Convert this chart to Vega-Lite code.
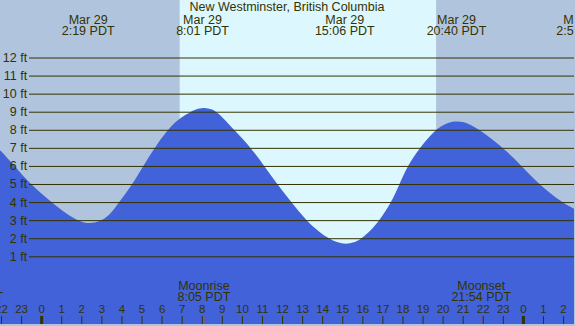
{
  "$schema": "https://vega.github.io/schema/vega-lite/v6.json",
  "width": 575,
  "height": 326,
  "padding": 0,
  "autosize": {"type": "fit", "contains": "padding"},
  "background": "#b0c4de",
  "config": {"view": {"stroke": null}, "font": "Liberation Sans"},
  "datasets": {
    "bands": [
      {"start": -2.074, "end": 6.877, "period": "night"},
      {"start": 6.877, "end": 19.66, "period": "day"},
      {"start": 19.66, "end": 26.52, "period": "night"}
    ],
    "tide": [
      {"h": -2.3, "ft": 7.1}, {"h": -2.07, "ft": 6.92}, {"h": -1.33, "ft": 6.0}, {"h": -0.58, "ft": 5.03}, {"h": 0.58, "ft": 3.93},
      {"h": 1.57, "ft": 3.11}, {"h": 2.07, "ft": 2.9}, {"h": 2.37, "ft": 2.85}, {"h": 2.9, "ft": 2.94},
      {"h": 3.4, "ft": 3.3}, {"h": 3.81, "ft": 3.95}, {"h": 4.55, "ft": 5.05}, {"h": 5.05, "ft": 6.0},
      {"h": 5.55, "ft": 6.9}, {"h": 6.22, "ft": 7.97}, {"h": 6.85, "ft": 8.65}, {"h": 7.47, "ft": 9.06}, {"h": 7.8, "ft": 9.2},
      {"h": 8.12, "ft": 9.26}, {"h": 8.45, "ft": 9.18}, {"h": 8.75, "ft": 9.03}, {"h": 9.61, "ft": 7.99},
      {"h": 10.46, "ft": 7.0}, {"h": 11.1, "ft": 6.0}, {"h": 11.75, "ft": 5.0}, {"h": 12.45, "ft": 4.0},
      {"h": 13.19, "ft": 3.0}, {"h": 13.8, "ft": 2.4}, {"h": 14.33, "ft": 1.99}, {"h": 14.75, "ft": 1.78}, {"h": 15.16, "ft": 1.69},
      {"h": 15.55, "ft": 1.78}, {"h": 15.91, "ft": 1.99}, {"h": 16.4, "ft": 2.45}, {"h": 16.82, "ft": 3.0}, {"h": 17.42, "ft": 4.0},
      {"h": 17.82, "ft": 5.0}, {"h": 18.21, "ft": 6.0}, {"h": 18.81, "ft": 7.0}, {"h": 19.56, "ft": 7.99},
      {"h": 20.15, "ft": 8.42}, {"h": 20.72, "ft": 8.52}, {"h": 21.25, "ft": 8.4}, {"h": 21.88, "ft": 7.99},
      {"h": 23.04, "ft": 7.0}, {"h": 23.93, "ft": 6.0}, {"h": 24.78, "ft": 5.0}, {"h": 25.92, "ft": 4.0},
      {"h": 26.52, "ft": 3.66}, {"h": 26.8, "ft": 3.5}
    ],
    "grid": [
      {"ft": 1, "label": "1 ft"}, {"ft": 2, "label": "2 ft"}, {"ft": 3, "label": "3 ft"}, {"ft": 4, "label": "4 ft"},
      {"ft": 5, "label": "5 ft"}, {"ft": 6, "label": "6 ft"}, {"ft": 7, "label": "7 ft"}, {"ft": 8, "label": "8 ft"},
      {"ft": 9, "label": "9 ft"}, {"ft": 10, "label": "10 ft"}, {"ft": 11, "label": "11 ft"}, {"ft": 12, "label": "12 ft"}
    ],
    "titles": [
      {"h": 12.22, "text": "New Westminster, British Columbia"}
    ],
    "extremes": [
      {"h": 2.317, "date": "Mar 29", "time": "2:19 PDT"},
      {"h": 8.017, "date": "Mar 29", "time": "8:01 PDT"},
      {"h": 15.1, "date": "Mar 29", "time": "15:06 PDT"},
      {"h": 20.667, "date": "Mar 29", "time": "20:40 PDT"},
      {"h": 26.95, "date": "Mar 30", "time": "2:57 PDT"}
    ],
    "moon": [
      {"h": -3.4, "event": "Moonset", "time": "20:36 PDT"},
      {"h": 8.083, "event": "Moonrise", "time": "8:05 PDT"},
      {"h": 21.9, "event": "Moonset", "time": "21:54 PDT"}
    ],
    "hours": [
      {"h": -2, "label": "22"}, {"h": -1, "label": "23"}, {"h": 0, "label": "0"}, {"h": 1, "label": "1"},
      {"h": 2, "label": "2"}, {"h": 3, "label": "3"}, {"h": 4, "label": "4"}, {"h": 5, "label": "5"},
      {"h": 6, "label": "6"}, {"h": 7, "label": "7"}, {"h": 8, "label": "8"}, {"h": 9, "label": "9"},
      {"h": 10, "label": "10"}, {"h": 11, "label": "11"}, {"h": 12, "label": "12"}, {"h": 13, "label": "13"},
      {"h": 14, "label": "14"}, {"h": 15, "label": "15"}, {"h": 16, "label": "16"}, {"h": 17, "label": "17"},
      {"h": 18, "label": "18"}, {"h": 19, "label": "19"}, {"h": 20, "label": "20"}, {"h": 21, "label": "21"},
      {"h": 22, "label": "22"}, {"h": 23, "label": "23"}, {"h": 24, "label": "0"}, {"h": 25, "label": "1"},
      {"h": 26, "label": "2"}
    ]
  },
  "layer": [
    {
      "data": {"name": "bands"},
      "mark": {"type": "rect"},
      "encoding": {
        "x": {"field": "start", "type": "quantitative", "scale": {"domain": [-2.074, 26.52], "nice": false, "zero": false}, "axis": null},
        "x2": {"field": "end"},
        "color": {"field": "period", "type": "nominal", "scale": {"domain": ["night", "day"], "range": ["#b0c4de", "#ddf7ff"]}, "legend": null}
      }
    },
    {
      "data": {"name": "tide"},
      "mark": {"type": "area", "interpolate": "basis", "color": "#4162d8", "clip": true},
      "encoding": {
        "x": {"field": "h", "type": "quantitative", "scale": {"domain": [-2.074, 26.52], "nice": false, "zero": false}, "axis": null},
        "y": {"field": "ft", "type": "quantitative", "scale": {"domain": [-2.72, 15.21], "nice": false, "zero": false}, "axis": null},
        "y2": {"datum": -2.72}
      }
    },
    {
      "data": {"name": "grid"},
      "mark": {"type": "rule", "color": "#333300", "strokeWidth": 1},
      "encoding": {
        "y": {"field": "ft", "type": "quantitative", "scale": {"domain": [-2.72, 15.21], "nice": false, "zero": false}, "axis": null},
        "x": {"datum": -0.63, "type": "quantitative", "scale": {"domain": [-2.074, 26.52], "nice": false, "zero": false}, "axis": null},
        "x2": {"datum": 26.52}
      }
    },
    {
      "data": {"name": "grid"},
      "mark": {"type": "text", "align": "right", "baseline": "middle", "fontSize": 12.5, "color": "#333300"},
      "encoding": {
        "y": {"field": "ft", "type": "quantitative", "axis": null},
        "x": {"datum": -0.72, "type": "quantitative", "axis": null},
        "text": {"field": "label"}
      }
    },
    {
      "data": {"name": "titles"},
      "mark": {"type": "text", "align": "center", "baseline": "middle", "fontSize": 12.5, "color": "#333300"},
      "encoding": {
        "x": {"field": "h", "type": "quantitative", "axis": null},
        "y": {"datum": 14.82, "type": "quantitative", "axis": null},
        "text": {"field": "text"}
      }
    },
    {
      "data": {"name": "extremes"},
      "mark": {"type": "text", "align": "center", "baseline": "middle", "fontSize": 12.5, "color": "#333300", "clip": true},
      "encoding": {
        "x": {"field": "h", "type": "quantitative", "axis": null},
        "y": {"datum": 14.11, "type": "quantitative", "axis": null},
        "text": {"field": "date"}
      }
    },
    {
      "data": {"name": "extremes"},
      "mark": {"type": "text", "align": "center", "baseline": "middle", "fontSize": 12.5, "color": "#333300", "clip": true},
      "encoding": {
        "x": {"field": "h", "type": "quantitative", "axis": null},
        "y": {"datum": 13.47, "type": "quantitative", "axis": null},
        "text": {"field": "time"}
      }
    },
    {
      "data": {"name": "moon"},
      "mark": {"type": "text", "align": "center", "baseline": "middle", "fontSize": 12.5, "color": "#333300", "clip": true},
      "encoding": {
        "x": {"field": "h", "type": "quantitative", "axis": null},
        "y": {"datum": -0.59, "type": "quantitative", "axis": null},
        "text": {"field": "event"}
      }
    },
    {
      "data": {"name": "moon"},
      "mark": {"type": "text", "align": "center", "baseline": "middle", "fontSize": 12.5, "color": "#333300", "clip": true},
      "encoding": {
        "x": {"field": "h", "type": "quantitative", "axis": null},
        "y": {"datum": -1.24, "type": "quantitative", "axis": null},
        "text": {"field": "time"}
      }
    },
    {
      "data": {"name": "hours"},
      "mark": {"type": "text", "align": "center", "baseline": "middle", "fontSize": 11.5, "color": "#333300", "clip": true},
      "encoding": {
        "x": {"field": "h", "type": "quantitative", "axis": null},
        "y": {"datum": -1.94, "type": "quantitative", "axis": null},
        "text": {"field": "label"}
      }
    },
    {
      "data": {"name": "hours"},
      "mark": {"type": "rule", "color": "#333300"},
      "encoding": {
        "x": {"field": "h", "type": "quantitative", "axis": null},
        "y": {"datum": -2.28, "type": "quantitative", "axis": null},
        "y2": {"datum": -2.72},
        "strokeWidth": {"condition": {"test": "datum.label == '0'", "value": 3}, "value": 1}
      }
    },
    {
      "data": {"name": "moon"},
      "mark": {"type": "rule", "color": "#b0502a", "strokeWidth": 1, "clip": true},
      "encoding": {
        "x": {"field": "h", "type": "quantitative", "axis": null},
        "y": {"datum": -2.28, "type": "quantitative", "axis": null},
        "y2": {"datum": -2.72}
      }
    }
  ]
}
